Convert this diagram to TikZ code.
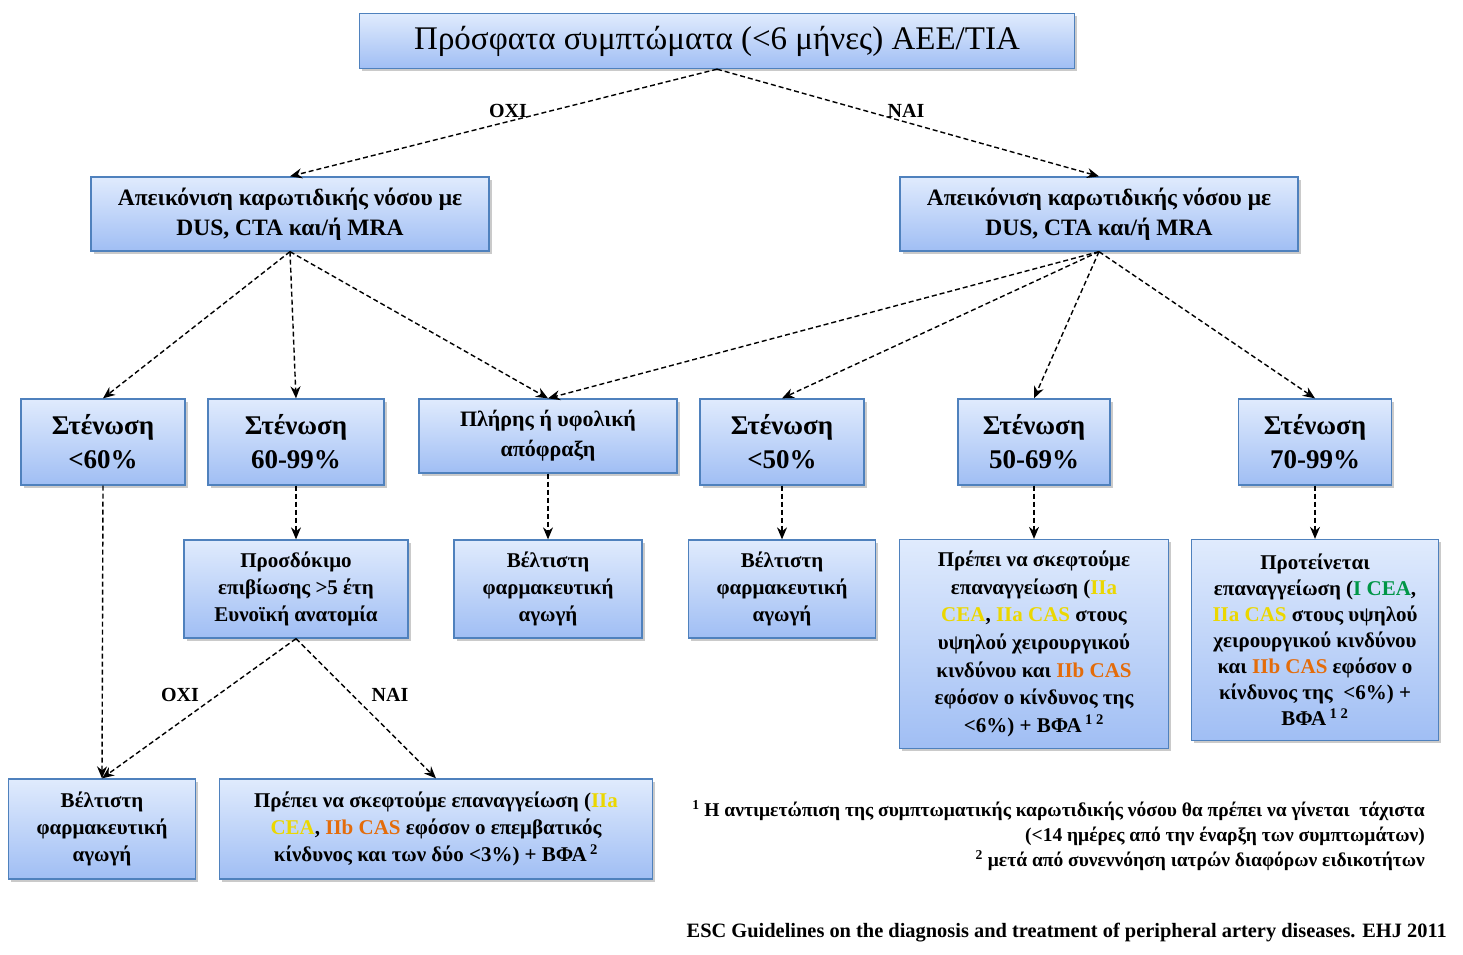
\documentclass[tikz,border=0pt]{standalone}
\usepackage{fontspec}
\setmainfont{Liberation Serif}
\usetikzlibrary{arrows.meta,shadows}
\definecolor{bxborder}{RGB}{79,129,189}
\definecolor{bxtop}{RGB}{224,235,253}
\definecolor{bxbot}{RGB}{160,190,244}
\definecolor{cyel}{RGB}{235,215,0}
\definecolor{corg}{RGB}{228,108,10}
\definecolor{cgrn}{RGB}{0,150,70}
\newcommand{\fs}[2]{\fontsize{#1}{#2}\selectfont}
\newcommand{\Y}[1]{\textcolor{cyel}{#1}}
\newcommand{\Or}[1]{\textcolor{corg}{#1}}
\newcommand{\Gr}[1]{\textcolor{cgrn}{#1}}
\tikzset{
  bx/.style={draw=bxborder, line width=1.3pt, top color=bxtop, bottom color=bxbot,
    align=center, inner sep=0pt, font=\bfseries,
    drop shadow={shadow xshift=2.5pt, shadow yshift=-2.5pt, opacity=0.35, fill=black!60}},
  arr/.style={dash pattern=on 5pt off 3pt, line width=1.4pt, -{Stealth[length=12pt,width=10pt]}},
  lbl/.style={font=\bfseries\fs{20}{22}, inner sep=0pt},
}
\begin{document}
\begin{tikzpicture}[x=1pt,y=-1pt]
\useasboundingbox (0,0) rectangle (1463,954);
% level 0
\node[bx, font=\fs{33}{36}, minimum width=715, minimum height=55] (top) at (717,41) {Πρόσφατα συμπτώματα (<6 μήνες) ΑΕΕ/ΤΙΑ};
% level 1
\node[bx, font=\bfseries\fs{23.5}{30}, minimum width=398, minimum height=74] (L) at (290,214) {Απεικόνιση καρωτιδικής νόσου με\\DUS, CTA και/ή MRA};
\node[bx, font=\bfseries\fs{23.5}{30}, minimum width=398, minimum height=74] (R) at (1099,214) {Απεικόνιση καρωτιδικής νόσου με\\DUS, CTA και/ή MRA};
% level 2
\node[bx, font=\bfseries\fs{27}{34}, minimum width=164, minimum height=86] (s60) at (103,442) {Στένωση\\<60\%};
\node[bx, font=\bfseries\fs{27}{34}, minimum width=176, minimum height=86] (s6099) at (296,442) {Στένωση\\60-99\%};
\node[bx, font=\bfseries\fs{22}{30}, minimum width=258, minimum height=74] (occ) at (548,436) {Πλήρης ή υφολική\\απόφραξη};
\node[bx, font=\bfseries\fs{27}{34}, minimum width=164, minimum height=86] (s50) at (782,442) {Στένωση\\<50\%};
\node[bx, font=\bfseries\fs{27}{34}, minimum width=152, minimum height=86] (s5069) at (1034,442) {Στένωση\\50-69\%};
\node[bx, font=\bfseries\fs{27}{34}, minimum width=153, minimum height=86] (s7099) at (1315,442) {Στένωση\\70-99\%};
% level 3
\node[bx, font=\bfseries\fs{21}{27}, minimum width=224, minimum height=98] (pros) at (296,589) {Προσδόκιμο\\επιβίωσης >5 έτη\\Ευνοϊκή ανατομία};
\node[bx, font=\bfseries\fs{21}{27}, minimum width=188, minimum height=98] (b1) at (548,589) {Βέλτιστη\\φαρμακευτική\\αγωγή};
\node[bx, font=\bfseries\fs{21}{27}, minimum width=187, minimum height=98] (b2) at (782,589) {Βέλτιστη\\φαρμακευτική\\αγωγή};
\node[bx, font=\bfseries\fs{21}{27.6}, minimum width=269, minimum height=209] (rev1) at (1034,644) {Πρέπει να σκεφτούμε\\επαναγγείωση (\Y{IIa}\\\Y{CEA}, \Y{IIa CAS} στους\\υψηλού χειρουργικού\\κινδύνου και \Or{IIb CAS}\\εφόσον ο κίνδυνος της\\<6\%) + ΒΦΑ\,\textsuperscript{1 2}};
\node[bx, font=\bfseries\fs{21}{26}, minimum width=247, minimum height=201] (rev2) at (1315,640) {Προτείνεται\\επαναγγείωση (\Gr{I CEA},\\\Y{IIa CAS} στους υψηλού\\χειρουργικού κινδύνου\\και \Or{IIb CAS} εφόσον ο\\κίνδυνος της \ <6\%) +\\ΒΦΑ\,\textsuperscript{1 2}};
% level 4
\node[bx, font=\bfseries\fs{21}{27}, minimum width=187, minimum height=100] (b3) at (102,829) {Βέλτιστη\\φαρμακευτική\\αγωγή};
\node[bx, font=\bfseries\fs{21}{27}, minimum width=433, minimum height=100] (rev3) at (436,829) {Πρέπει να σκεφτούμε επαναγγείωση (\Y{IIa}\\\Y{CEA}, \Or{IIb CAS} εφόσον ο επεμβατικός\\κίνδυνος και των δύο <3\%) + ΒΦΑ\,\textsuperscript{2}};
% arrows
\draw[arr] (top.south) -- (L.north);
\draw[arr] (top.south) -- (R.north);
\draw[arr] (L.south) -- (s60.north);
\draw[arr] (L.south) -- (s6099.north);
\draw[arr] (L.south) -- (occ.north);
\draw[arr] (R.south) -- (occ.north);
\draw[arr] (R.south) -- (s50.north);
\draw[arr] (R.south) -- (s5069.north);
\draw[arr] (R.south) -- (s7099.north);
\draw[arr] (s60.south) -- (b3.north);
\draw[arr] (s6099.south) -- (pros.north);
\draw[arr] (occ.south) -- (b1.north);
\draw[arr] (s50.south) -- (b2.north);
\draw[arr] (s5069.south) -- (rev1.north);
\draw[arr] (s7099.south) -- (rev2.north);
\draw[arr] (pros.south) -- (b3.north);
\draw[arr] (pros.south) -- (rev3.north);
% labels
\node[lbl] (l1) at (508,111) {ΟΧΙ};
\node[lbl] (l2) at (906,111) {ΝΑΙ};
\node[lbl] (l3) at (180,695) {ΟΧΙ};
\node[lbl] (l4) at (390,695) {ΝΑΙ};
% footnotes
\node[anchor=north east, align=right, inner sep=0pt, font=\bfseries\fs{19.5}{25}] (fn) at (1425,800) {\textsuperscript{1} Η αντιμετώπιση της συμπτωματικής καρωτιδικής νόσου θα πρέπει να γίνεται \ τάχιστα\\(<14 ημέρες από την έναρξη των συμπτωμάτων)\\\textsuperscript{2} μετά από συνεννόηση ιατρών διαφόρων ειδικοτήτων};
\node[anchor=east, inner sep=0pt, font=\bfseries\fs{20.4}{22}] (cite) at (1447,933) {ESC Guidelines on the diagnosis and treatment of peripheral artery diseases. EHJ 2011};
\end{tikzpicture}
\end{document}
